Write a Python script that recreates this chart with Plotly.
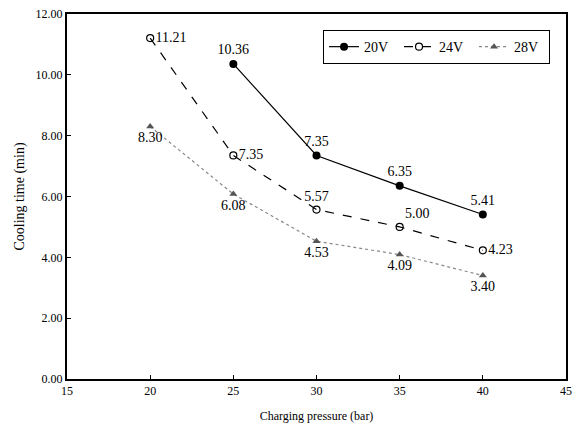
import plotly.graph_objects as go

pressure_20v = [25, 30, 35, 40]
time_20v = [10.36, 7.35, 6.35, 5.41]
pressure_24v = [20, 25, 30, 35, 40]
time_24v = [11.21, 7.35, 5.57, 5.00, 4.23]
pressure_28v = [20, 25, 30, 35, 40]
time_28v = [8.30, 6.08, 4.53, 4.09, 3.40]

pos_20v = ["top center"] * 4
pos_24v = ["middle right", "middle right", "top center", "top right", "middle right"]
pos_28v = ["bottom center"] * 5

font_family = "Liberation Serif"

fig = go.Figure()
fig.add_trace(go.Scatter(
    x=pressure_20v, y=time_20v, name="20V", mode="lines+markers+text",
    text=[f"{v:.2f}" for v in time_20v], textposition=pos_20v,
    textfont=dict(size=14, color="black", family=font_family),
    line=dict(color="black", width=1.2),
    marker=dict(symbol="circle", size=8, color="black"),
))
fig.add_trace(go.Scatter(
    x=pressure_24v, y=time_24v, name="24V", mode="lines+markers+text",
    text=[f"{v:.2f}" for v in time_24v], textposition=pos_24v,
    textfont=dict(size=14, color="black", family=font_family),
    line=dict(color="black", width=1.2, dash="dash"),
    marker=dict(symbol="circle-open", size=7, color="black", line=dict(width=1.2)),
))
fig.add_trace(go.Scatter(
    x=pressure_28v, y=time_28v, name="28V", mode="lines+markers+text",
    text=[f"{v:.2f}" for v in time_28v], textposition=pos_28v,
    textfont=dict(size=14, color="black", family=font_family),
    line=dict(color="#888888", width=1.2, dash="dot"),
    marker=dict(symbol="triangle-up", size=7, color="#555555"),
))

fig.update_layout(
    width=573, height=438,
    margin=dict(l=67, r=7, t=14, b=59),
    paper_bgcolor="white", plot_bgcolor="white",
    font=dict(family=font_family, color="black", size=12),
    showlegend=True,
    legend=dict(
        orientation="h", x=0.968, y=0.956, xanchor="right", yanchor="top",
        bordercolor="black", borderwidth=1, bgcolor="white",
        font=dict(size=14, family=font_family),
        entrywidth=30, entrywidthmode="pixels",
    ),
    xaxis=dict(
        range=[15, 45], dtick=5, tick0=15, showgrid=False, zeroline=False,
        showline=True, linecolor="black", linewidth=2, mirror=True,
        ticks="inside", ticklen=4, tickcolor="black",
        tickfont=dict(size=12, family=font_family),
        title=dict(text="Charging pressure (bar)", font=dict(size=12, family=font_family), standoff=14),
        automargin=False,
    ),
    yaxis=dict(
        range=[0, 12], dtick=2, tickformat=".2f", showgrid=False, zeroline=False,
        showline=True, linecolor="black", linewidth=2, mirror=True,
        ticks="inside", ticklen=4, tickcolor="black",
        tickfont=dict(size=12, family=font_family),
        title=dict(text="Cooling time (min)", font=dict(size=14, family=font_family), standoff=8),
        automargin=False,
    ),
)

fig.write_html("out.html", config={"displayModeBar": False},
               post_script="document.body.style.margin='0px';")
